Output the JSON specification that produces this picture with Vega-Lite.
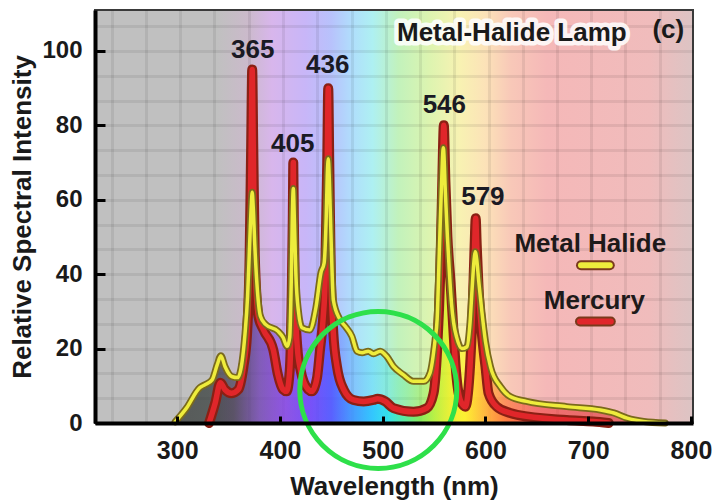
{
  "$schema": "https://vega.github.io/schema/vega-lite/v6.json",
  "autosize": "none",
  "width": 598,
  "height": 413,
  "padding": {"left": 95, "top": 10, "right": 27, "bottom": 79},
  "background": "#ffffff",
  "config": {"font": "Liberation Sans", "view": {"stroke": "#3a3a3a", "strokeWidth": 2}},
  "view": {
    "stroke": "#3a3a3a",
    "strokeWidth": 2,
    "fill": {
      "gradient": "linear", "x1": 0, "y1": 0, "x2": 1, "y2": 0,
      "stops": [
        {"offset": 0, "color": "#c0c0c0"},
        {"offset": 0.205, "color": "#c0c0c0"},
        {"offset": 0.255, "color": "#cbbacb"},
        {"offset": 0.296, "color": "#d8b6ec"},
        {"offset": 0.352, "color": "#c8b6f8"},
        {"offset": 0.395, "color": "#b8c2fc"},
        {"offset": 0.430, "color": "#b0defc"},
        {"offset": 0.464, "color": "#aef0f2"},
        {"offset": 0.507, "color": "#c2f2bc"},
        {"offset": 0.558, "color": "#dcf4b0"},
        {"offset": 0.610, "color": "#f8f2b2"},
        {"offset": 0.653, "color": "#fce2b8"},
        {"offset": 0.696, "color": "#f8c8b8"},
        {"offset": 0.756, "color": "#f5b8b8"},
        {"offset": 0.928, "color": "#f0bcbc"},
        {"offset": 1, "color": "#dcc4c4"}
      ]
    }
  },
  "datasets": {
    "spectra": [
      {"series": "Metal Halide", "wl": 280, "value": 0},
      {"series": "Metal Halide", "wl": 298, "value": 0.3},
      {"series": "Metal Halide", "wl": 309, "value": 4},
      {"series": "Metal Halide", "wl": 322, "value": 9.5},
      {"series": "Metal Halide", "wl": 327, "value": 10.3},
      {"series": "Metal Halide", "wl": 334, "value": 11.6},
      {"series": "Metal Halide", "wl": 339, "value": 15.7},
      {"series": "Metal Halide", "wl": 342.5, "value": 18.1},
      {"series": "Metal Halide", "wl": 346.5, "value": 15.2},
      {"series": "Metal Halide", "wl": 353, "value": 12.5},
      {"series": "Metal Halide", "wl": 359, "value": 12.2},
      {"series": "Metal Halide", "wl": 363, "value": 16.2},
      {"series": "Metal Halide", "wl": 366, "value": 24},
      {"series": "Metal Halide", "wl": 368.5, "value": 34},
      {"series": "Metal Halide", "wl": 370.5, "value": 48},
      {"series": "Metal Halide", "wl": 372, "value": 58},
      {"series": "Metal Halide", "wl": 373, "value": 62},
      {"series": "Metal Halide", "wl": 374, "value": 58},
      {"series": "Metal Halide", "wl": 375.5, "value": 48},
      {"series": "Metal Halide", "wl": 377.5, "value": 37.8},
      {"series": "Metal Halide", "wl": 381, "value": 28.7},
      {"series": "Metal Halide", "wl": 386, "value": 26.5},
      {"series": "Metal Halide", "wl": 398, "value": 24.7},
      {"series": "Metal Halide", "wl": 403, "value": 23},
      {"series": "Metal Halide", "wl": 407, "value": 20.6},
      {"series": "Metal Halide", "wl": 409.5, "value": 23},
      {"series": "Metal Halide", "wl": 411, "value": 38},
      {"series": "Metal Halide", "wl": 412, "value": 55},
      {"series": "Metal Halide", "wl": 413, "value": 63},
      {"series": "Metal Halide", "wl": 414, "value": 55},
      {"series": "Metal Halide", "wl": 415.5, "value": 40},
      {"series": "Metal Halide", "wl": 418, "value": 30},
      {"series": "Metal Halide", "wl": 421.5, "value": 25.6},
      {"series": "Metal Halide", "wl": 429, "value": 25},
      {"series": "Metal Halide", "wl": 435, "value": 31},
      {"series": "Metal Halide", "wl": 440, "value": 40.5},
      {"series": "Metal Halide", "wl": 443, "value": 43},
      {"series": "Metal Halide", "wl": 445, "value": 55},
      {"series": "Metal Halide", "wl": 446, "value": 66},
      {"series": "Metal Halide", "wl": 447, "value": 71},
      {"series": "Metal Halide", "wl": 448, "value": 66},
      {"series": "Metal Halide", "wl": 449.5, "value": 52},
      {"series": "Metal Halide", "wl": 452, "value": 33},
      {"series": "Metal Halide", "wl": 458, "value": 28},
      {"series": "Metal Halide", "wl": 463.5, "value": 26},
      {"series": "Metal Halide", "wl": 470, "value": 23.3},
      {"series": "Metal Halide", "wl": 475, "value": 19.3},
      {"series": "Metal Halide", "wl": 480, "value": 18.9},
      {"series": "Metal Halide", "wl": 486, "value": 19.3},
      {"series": "Metal Halide", "wl": 491, "value": 18.6},
      {"series": "Metal Halide", "wl": 497.5, "value": 19.3},
      {"series": "Metal Halide", "wl": 504, "value": 17.9},
      {"series": "Metal Halide", "wl": 510.5, "value": 15.2},
      {"series": "Metal Halide", "wl": 520, "value": 13},
      {"series": "Metal Halide", "wl": 530, "value": 11.2},
      {"series": "Metal Halide", "wl": 540, "value": 11.2},
      {"series": "Metal Halide", "wl": 546, "value": 13.4},
      {"series": "Metal Halide", "wl": 551, "value": 22.4},
      {"series": "Metal Halide", "wl": 553, "value": 28},
      {"series": "Metal Halide", "wl": 555, "value": 45},
      {"series": "Metal Halide", "wl": 557, "value": 62},
      {"series": "Metal Halide", "wl": 559, "value": 74},
      {"series": "Metal Halide", "wl": 561, "value": 62},
      {"series": "Metal Halide", "wl": 563, "value": 50},
      {"series": "Metal Halide", "wl": 565, "value": 40},
      {"series": "Metal Halide", "wl": 567, "value": 32},
      {"series": "Metal Halide", "wl": 569, "value": 27},
      {"series": "Metal Halide", "wl": 572, "value": 23},
      {"series": "Metal Halide", "wl": 577, "value": 20},
      {"series": "Metal Halide", "wl": 582, "value": 20.5},
      {"series": "Metal Halide", "wl": 585, "value": 27},
      {"series": "Metal Halide", "wl": 587, "value": 36},
      {"series": "Metal Halide", "wl": 589, "value": 44},
      {"series": "Metal Halide", "wl": 590, "value": 46},
      {"series": "Metal Halide", "wl": 591.5, "value": 44},
      {"series": "Metal Halide", "wl": 593.5, "value": 38},
      {"series": "Metal Halide", "wl": 596.5, "value": 30},
      {"series": "Metal Halide", "wl": 600, "value": 22},
      {"series": "Metal Halide", "wl": 605, "value": 15},
      {"series": "Metal Halide", "wl": 614.5, "value": 9.8},
      {"series": "Metal Halide", "wl": 624, "value": 7.1},
      {"series": "Metal Halide", "wl": 640, "value": 5.8},
      {"series": "Metal Halide", "wl": 679, "value": 4.4},
      {"series": "Metal Halide", "wl": 712, "value": 3.5},
      {"series": "Metal Halide", "wl": 725, "value": 2.7},
      {"series": "Metal Halide", "wl": 738, "value": 1.3},
      {"series": "Metal Halide", "wl": 754, "value": 0.4},
      {"series": "Metal Halide", "wl": 775, "value": 0},
      {"series": "Metal Halide", "wl": 780, "value": 0},
      {"series": "Mercury", "wl": 280, "value": 0},
      {"series": "Mercury", "wl": 331, "value": 0},
      {"series": "Mercury", "wl": 337, "value": 5.4},
      {"series": "Mercury", "wl": 342, "value": 10.8},
      {"series": "Mercury", "wl": 346.5, "value": 9},
      {"series": "Mercury", "wl": 353, "value": 8},
      {"series": "Mercury", "wl": 359.5, "value": 9},
      {"series": "Mercury", "wl": 364.5, "value": 15.2},
      {"series": "Mercury", "wl": 368, "value": 24},
      {"series": "Mercury", "wl": 370.5, "value": 45},
      {"series": "Mercury", "wl": 372, "value": 75},
      {"series": "Mercury", "wl": 373, "value": 95},
      {"series": "Mercury", "wl": 374, "value": 75},
      {"series": "Mercury", "wl": 375.5, "value": 45},
      {"series": "Mercury", "wl": 379, "value": 28.7},
      {"series": "Mercury", "wl": 384, "value": 25},
      {"series": "Mercury", "wl": 393.5, "value": 19.7},
      {"series": "Mercury", "wl": 398, "value": 13},
      {"series": "Mercury", "wl": 403, "value": 9},
      {"series": "Mercury", "wl": 406.5, "value": 8.5},
      {"series": "Mercury", "wl": 409.5, "value": 14},
      {"series": "Mercury", "wl": 411.5, "value": 35},
      {"series": "Mercury", "wl": 412.5, "value": 55},
      {"series": "Mercury", "wl": 413, "value": 70},
      {"series": "Mercury", "wl": 413.5, "value": 55},
      {"series": "Mercury", "wl": 414.5, "value": 35},
      {"series": "Mercury", "wl": 417, "value": 20},
      {"series": "Mercury", "wl": 420, "value": 14.3},
      {"series": "Mercury", "wl": 427.5, "value": 9},
      {"series": "Mercury", "wl": 431, "value": 8.5},
      {"series": "Mercury", "wl": 436, "value": 12},
      {"series": "Mercury", "wl": 439, "value": 19.7},
      {"series": "Mercury", "wl": 442, "value": 28},
      {"series": "Mercury", "wl": 444, "value": 38.6},
      {"series": "Mercury", "wl": 446, "value": 70},
      {"series": "Mercury", "wl": 447, "value": 90},
      {"series": "Mercury", "wl": 448, "value": 70},
      {"series": "Mercury", "wl": 449.5, "value": 40},
      {"series": "Mercury", "wl": 452, "value": 24},
      {"series": "Mercury", "wl": 455.5, "value": 15.2},
      {"series": "Mercury", "wl": 462, "value": 9},
      {"series": "Mercury", "wl": 471.5, "value": 6.2},
      {"series": "Mercury", "wl": 481.5, "value": 5.8},
      {"series": "Mercury", "wl": 491, "value": 6.2},
      {"series": "Mercury", "wl": 495, "value": 6.5},
      {"series": "Mercury", "wl": 502.5, "value": 5.8},
      {"series": "Mercury", "wl": 510.5, "value": 4},
      {"series": "Mercury", "wl": 530, "value": 3},
      {"series": "Mercury", "wl": 543, "value": 4},
      {"series": "Mercury", "wl": 549.5, "value": 8},
      {"series": "Mercury", "wl": 553, "value": 19.7},
      {"series": "Mercury", "wl": 556, "value": 40},
      {"series": "Mercury", "wl": 558, "value": 65},
      {"series": "Mercury", "wl": 559.5, "value": 80},
      {"series": "Mercury", "wl": 561, "value": 65},
      {"series": "Mercury", "wl": 563, "value": 50},
      {"series": "Mercury", "wl": 566, "value": 38},
      {"series": "Mercury", "wl": 569, "value": 24},
      {"series": "Mercury", "wl": 571, "value": 15.2},
      {"series": "Mercury", "wl": 575.5, "value": 6.2},
      {"series": "Mercury", "wl": 580.5, "value": 4.4},
      {"series": "Mercury", "wl": 583, "value": 8},
      {"series": "Mercury", "wl": 585, "value": 15.2},
      {"series": "Mercury", "wl": 587.5, "value": 30},
      {"series": "Mercury", "wl": 589.5, "value": 48},
      {"series": "Mercury", "wl": 590.5, "value": 55},
      {"series": "Mercury", "wl": 591.5, "value": 48},
      {"series": "Mercury", "wl": 593.5, "value": 35},
      {"series": "Mercury", "wl": 596.5, "value": 24},
      {"series": "Mercury", "wl": 600, "value": 15.2},
      {"series": "Mercury", "wl": 603, "value": 8},
      {"series": "Mercury", "wl": 611, "value": 4.4},
      {"series": "Mercury", "wl": 624, "value": 2.7},
      {"series": "Mercury", "wl": 631, "value": 2.2},
      {"series": "Mercury", "wl": 679, "value": 0.8},
      {"series": "Mercury", "wl": 705, "value": 0.4},
      {"series": "Mercury", "wl": 720, "value": 0},
      {"series": "Mercury", "wl": 780, "value": 0}
    ],
    "peaks": [
      {"label": "365", "wl": 373.5, "value": 100.3},
      {"label": "405", "wl": 412.5, "value": 75.1},
      {"label": "436", "wl": 446.5, "value": 96.3},
      {"label": "546", "wl": 560, "value": 85.5},
      {"label": "579", "wl": 597.5, "value": 60.8}
    ],
    "titles": [
      {"label": "Metal-Halide Lamp", "kind": "title", "wl": 625.7, "value": 104.9},
      {"label": "(c)", "kind": "tag", "wl": 778, "value": 105.7}
    ],
    "legendText": [
      {"label": "Metal Halide", "wl": 702, "value": 48.1},
      {"label": "Mercury", "wl": 706, "value": 32.7}
    ],
    "swatches": [
      {"series": "Metal Halide", "wl": 693, "wl2": 721, "value": 42.4},
      {"series": "Mercury", "wl": 692, "wl2": 722, "value": 27.3}
    ],
    "highlight": [
      {"wl": 495.7, "value": 8.9}
    ]
  },
  "resolve": {"axis": {"x": "independent", "y": "independent"}},
  "layer": [
    {
      "data": {"name": "highlight"},
      "mark": {"type": "point", "opacity": 0},
      "encoding": {
        "x": {"field": "wl", "type": "quantitative", "scale": {"domain": [220, 802], "nice": false, "zero": false},
          "axis": {"orient": "top", "grid": true, "values": [236.3, 269.7, 303, 336.3, 369.7, 403, 436.3, 469.7, 503, 536.3, 569.7, 603, 636.3, 669.7, 703, 736.3, 769.7],
            "labels": false, "ticks": false, "domain": false, "title": null, "gridColor": "#000000", "gridOpacity": 0.07, "gridWidth": 3}},
        "y": {"field": "value", "type": "quantitative", "scale": {"domain": [0, 111], "nice": false, "zero": true},
          "axis": {"orient": "right", "grid": true, "values": [6.67, 13.33, 20, 26.67, 33.33, 40, 46.67, 53.33, 60, 66.67, 73.33, 80, 86.67, 93.33, 100, 106.67],
            "labels": false, "ticks": false, "domain": false, "title": null, "gridColor": "#000000", "gridOpacity": 0.07, "gridWidth": 3}}
      }
    },
    {
      "encoding": {
        "x": {"field": "wl", "type": "quantitative", "scale": {"domain": [220, 802], "nice": false, "zero": false},
          "axis": {"orient": "bottom", "title": "Wavelength (nm)", "values": [300, 400, 500, 600, 700, 800], "grid": false, "zindex": 1,
            "labelFont": "Liberation Sans", "labelFontSize": 25, "labelFontWeight": "bold", "labelColor": "#1a1a1a",
            "labelFlush": false, "labelOverlap": false, "labelPadding": 22,
            "ticks": true, "tickColor": "#000000", "tickWidth": 3, "tickSize": -7,
            "domainColor": "#000000", "domainWidth": 4,
            "titleFont": "Liberation Sans", "titleFontSize": 26, "titleFontWeight": "bold", "titleColor": "#1a1a1a", "titlePadding": 10}},
        "y": {"field": "value", "type": "quantitative", "scale": {"domain": [0, 111], "nice": false, "zero": true},
          "axis": {"orient": "left", "title": "Relative Spectral Intensity", "values": [0, 20, 40, 60, 80, 100], "grid": false, "zindex": 1,
            "labelFont": "Liberation Sans", "labelFontSize": 24, "labelFontWeight": "bold", "labelColor": "#1a1a1a",
            "labelFlush": false, "labelOverlap": false, "labelPadding": 23,
            "ticks": true, "tickColor": "#000000", "tickWidth": 3, "tickSize": -10,
            "domainColor": "#000000", "domainWidth": 4,
            "titleFont": "Liberation Sans", "titleFontSize": 26, "titleFontWeight": "bold", "titleColor": "#1a1a1a", "titlePadding": 6}}
      },
      "layer": [
        {
          "data": {"name": "spectra"},
          "transform": [{"filter": "datum.series === 'Metal Halide'"}],
          "mark": {"type": "area", "interpolate": "monotone", "fillOpacity": 1,
            "fill": {"gradient": "linear", "x1": 0, "y1": 0, "x2": 1, "y2": 0, "stops": [
              {"offset": 0, "color": "rgba(50,52,52,0.75)"},
              {"offset": 0.10, "color": "rgba(55,62,60,0.75)"},
              {"offset": 0.15, "color": "rgba(70,60,85,0.7)"},
              {"offset": 0.20, "color": "rgba(112,72,176,0.6)"},
              {"offset": 0.25, "color": "rgba(128,64,224,0.55)"},
              {"offset": 0.30, "color": "rgba(106,64,248,0.5)"},
              {"offset": 0.34, "color": "rgba(74,80,255,0.42)"},
              {"offset": 0.38, "color": "rgba(56,144,255,0.36)"},
              {"offset": 0.42, "color": "rgba(32,192,255,0.32)"},
              {"offset": 0.45, "color": "rgba(32,224,240,0.32)"},
              {"offset": 0.48, "color": "rgba(64,232,160,0.35)"},
              {"offset": 0.51, "color": "rgba(112,232,80,0.4)"},
              {"offset": 0.54, "color": "rgba(176,240,48,0.5)"},
              {"offset": 0.57, "color": "rgba(232,240,32,0.6)"},
              {"offset": 0.60, "color": "rgba(255,240,32,0.7)"},
              {"offset": 0.64, "color": "rgba(255,176,48,0.7)"},
              {"offset": 0.68, "color": "rgba(255,112,48,0.65)"},
              {"offset": 0.74, "color": "rgba(240,64,64,0.6)"},
              {"offset": 1, "color": "rgba(208,48,48,0.6)"}
            ]}}
        },
        {
          "data": {"name": "spectra"},
          "transform": [{"filter": "datum.series === 'Mercury'"}],
          "mark": {"type": "area", "interpolate": "monotone", "fillOpacity": 1,
            "fill": {"gradient": "linear", "x1": 0, "y1": 0, "x2": 1, "y2": 0, "stops": [
              {"offset": 0, "color": "rgba(58,58,58,0.5)"},
              {"offset": 0.10, "color": "rgba(64,70,70,0.5)"},
              {"offset": 0.15, "color": "rgba(74,68,88,0.5)"},
              {"offset": 0.20, "color": "rgba(112,72,176,0.55)"},
              {"offset": 0.25, "color": "rgba(128,64,224,0.6)"},
              {"offset": 0.30, "color": "rgba(106,64,248,0.7)"},
              {"offset": 0.34, "color": "rgba(74,80,255,0.75)"},
              {"offset": 0.38, "color": "rgba(56,144,255,0.8)"},
              {"offset": 0.42, "color": "rgba(32,192,255,0.8)"},
              {"offset": 0.45, "color": "rgba(32,224,240,0.8)"},
              {"offset": 0.48, "color": "rgba(64,232,160,0.75)"},
              {"offset": 0.51, "color": "rgba(112,232,80,0.7)"},
              {"offset": 0.54, "color": "rgba(176,240,48,0.65)"},
              {"offset": 0.57, "color": "rgba(232,240,32,0.6)"},
              {"offset": 0.60, "color": "rgba(255,240,32,0.6)"},
              {"offset": 0.64, "color": "rgba(255,176,48,0.6)"},
              {"offset": 0.68, "color": "rgba(255,112,48,0.6)"},
              {"offset": 0.74, "color": "rgba(240,64,64,0.6)"},
              {"offset": 1, "color": "rgba(208,48,48,0.6)"}
            ]}}
        },
        {
          "data": {"name": "spectra"},
          "transform": [{"filter": "datum.series === 'Mercury' && datum.wl > 280 && datum.wl < 780"}],
          "mark": {"type": "line", "interpolate": "monotone", "stroke": "#8a2014", "strokeWidth": 10, "strokeJoin": "round", "strokeCap": "round"}
        },
        {
          "data": {"name": "spectra"},
          "transform": [{"filter": "datum.series === 'Mercury' && datum.wl > 280 && datum.wl < 780"}],
          "mark": {"type": "line", "interpolate": "monotone", "stroke": "#e0262a", "strokeWidth": 5.5, "strokeJoin": "round", "strokeCap": "round"}
        },
        {
          "data": {"name": "spectra"},
          "transform": [{"filter": "datum.series === 'Metal Halide' && datum.wl > 280 && datum.wl < 780"}],
          "mark": {"type": "line", "interpolate": "monotone", "stroke": "#7a6a1c", "strokeWidth": 7, "strokeJoin": "round", "strokeCap": "round"}
        },
        {
          "data": {"name": "spectra"},
          "transform": [{"filter": "datum.series === 'Metal Halide' && datum.wl > 280 && datum.wl < 780"}],
          "mark": {"type": "line", "interpolate": "monotone", "stroke": "#eeec3c", "strokeWidth": 3.5, "strokeJoin": "round", "strokeCap": "round"}
        },
        {
          "data": {"name": "peaks"},
          "mark": {"type": "text", "font": "Liberation Sans", "fontSize": 26, "fontWeight": "bold", "color": "#1a1a24", "align": "center", "baseline": "middle"},
          "encoding": {"text": {"field": "label"}}
        },
        {
          "data": {"name": "titles"},
          "transform": [{"filter": "datum.kind === 'title'"}],
          "mark": {"type": "text", "font": "Liberation Sans", "fontSize": 26, "fontWeight": "bold", "fill": "#ffffff", "stroke": "#ffffff", "strokeWidth": 9, "strokeJoin": "round", "opacity": 0.85, "align": "center", "baseline": "middle"},
          "encoding": {"text": {"field": "label"}}
        },
        {
          "data": {"name": "titles"},
          "mark": {"type": "text", "font": "Liberation Sans", "fontSize": 26, "fontWeight": "bold", "color": "#1a1a1a", "align": "center", "baseline": "middle"},
          "encoding": {"text": {"field": "label"}}
        },
        {
          "data": {"name": "legendText"},
          "mark": {"type": "text", "font": "Liberation Sans", "fontSize": 26, "fontWeight": "bold", "color": "#1e1a1a", "align": "center", "baseline": "middle"},
          "encoding": {"text": {"field": "label"}}
        },
        {
          "data": {"name": "swatches"},
          "mark": {"type": "rule", "stroke": "#7a3a1c", "strokeWidth": 10, "strokeCap": "round"},
          "encoding": {"x2": {"field": "wl2"}}
        },
        {
          "data": {"name": "swatches"},
          "mark": {"type": "rule", "strokeWidth": 6, "strokeCap": "round"},
          "encoding": {
            "x2": {"field": "wl2"},
            "color": {"field": "series", "type": "nominal", "scale": {"domain": ["Metal Halide", "Mercury"], "range": ["#eeec3c", "#e0262a"]}, "legend": null}
          }
        },
        {
          "data": {"name": "highlight"},
          "mark": {"type": "point", "shape": "circle", "filled": false, "size": 24649, "stroke": "#2ee04a", "strokeWidth": 5, "opacity": 1}
        }
      ]
    }
  ]
}
